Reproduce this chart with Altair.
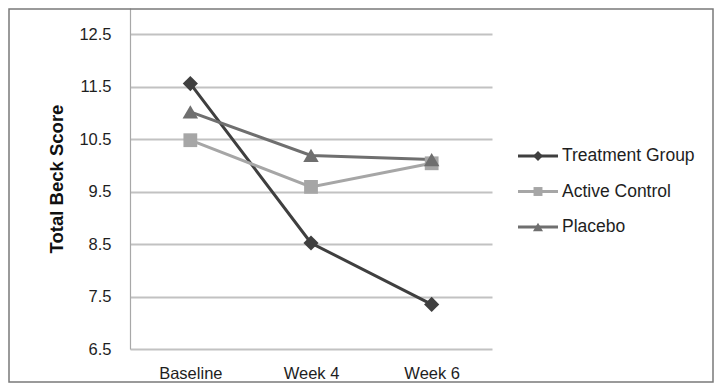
import altair as alt
import pandas as pd

weeks = ["Baseline", "Week 4", "Week 6"]
series_names = ["Treatment Group", "Active Control", "Placebo"]
treatment = [11.56, 8.52, 7.35]
active_control = [10.48, 9.59, 10.04]
placebo = [11.02, 10.19, 10.11]
y_ticks = [6.5, 7.5, 8.5, 9.5, 10.5, 11.5, 12.5]

colors = ["#3f3f3f", "#a6a6a6", "#6f6f6f"]
marker_shapes = ["diamond", "square", "triangle-up"]
marker_sizes = [230, 190, 240]

rows = []
for name, vals in zip(series_names, [treatment, active_control, placebo]):
    for w, v in zip(weeks, vals):
        rows.append({"week": w, "score": v, "series": name})
df = pd.DataFrame(rows)

FONT = "Liberation Sans"

color = alt.Color(
    "series:N",
    scale=alt.Scale(domain=series_names, range=colors),
    legend=None,
)

x = alt.X(
    "week:N",
    sort=weeks,
    scale=alt.Scale(paddingInner=0, paddingOuter=0),
    axis=alt.Axis(
        title=None,
        domain=False,
        ticks=False,
        labelAngle=0,
        labelFont=FONT,
        labelFontSize=16.5,
        labelColor="#1e1e1e",
        labelPadding=16,
        labelBaseline="top",
    ),
)
y = alt.Y(
    "score:Q",
    scale=alt.Scale(domain=[6.5, 13], nice=False, zero=False),
    axis=alt.Axis(
        values=y_ticks,
        format=".1f",
        title="Total Beck Score",
        titleFont=FONT,
        titleFontSize=18.5,
        titleFontWeight="bold",
        titleColor="#111111",
        titlePadding=12,
        labelFont=FONT,
        labelFontSize=16.5,
        labelColor="#1e1e1e",
        labelPadding=19,
        ticks=False,
        domain=True,
        domainColor="#a8a8a8",
        domainWidth=1.2,
        grid=True,
        gridColor="#c2c2c2",
        gridWidth=2,
    ),
)

base = alt.Chart(df)
lines = base.mark_line(strokeWidth=3).encode(x=x, y=y, color=color)

point_layers = []
for name, shp, sz in zip(series_names, marker_shapes, marker_sizes):
    point_layers.append(
        base.transform_filter(alt.datum.series == name)
        .mark_point(filled=True, size=sz, opacity=1, shape=shp)
        .encode(x=x, y=y, color=color)
    )

main = alt.layer(lines, *point_layers)

# ---- legend (line segment + marker + label for each series) ----
leg_df = pd.DataFrame({"series": series_names, "a": 0.0, "b": 1.0, "m": 0.5})
leg_base = alt.Chart(leg_df)
lx = alt.Scale(domain=[0, 1], range=[388, 428])
ly = alt.Scale(type="point", domain=series_names, range=[148, 219], padding=0)
leg_rule = leg_base.mark_rule(strokeWidth=3).encode(
    x=alt.X("a:Q", scale=lx, axis=None),
    x2="b:Q",
    y=alt.Y("series:N", scale=ly, axis=None),
    color=color,
)
leg_pts = []
for name, shp, sz in zip(series_names, marker_shapes, marker_sizes):
    leg_pts.append(
        leg_base.transform_filter(alt.datum.series == name)
        .mark_point(filled=True, size=sz * 0.42, opacity=1, shape=shp)
        .encode(
            x=alt.X("m:Q", scale=lx, axis=None),
            y=alt.Y("series:N", scale=ly, axis=None),
            color=color,
        )
    )
leg_text = leg_base.mark_text(
    align="left", baseline="middle", dx=4, font=FONT, fontSize=17.5, color="#1e1e1e"
).encode(
    x=alt.X("b:Q", scale=lx, axis=None),
    y=alt.Y("series:N", scale=ly, axis=None),
    text="series:N",
)
legend_layer = alt.layer(leg_rule, *leg_pts, leg_text)

frame = alt.Chart(alt.Data(values=[{"f": 1}])).mark_rect(
    filled=False, stroke="#7a7a7a", strokeWidth=1.5
).encode(
    x=alt.value(-121),
    x2=alt.value(583),
    y=alt.value(1),
    y2=alt.value(374),
)

chart = (
    alt.layer(main, legend_layer, frame)
    .resolve_scale(x="independent", y="independent")
    .properties(
        width=362,
        height=341,
        padding={"left": 122, "top": 0, "right": 222, "bottom": 34},
        autosize=alt.AutoSizeParams(type="none"),
        background="white",
    )
    .configure_view(stroke=None)
)

chart.save("out.html", embed_options={"renderer": "svg", "actions": False})
